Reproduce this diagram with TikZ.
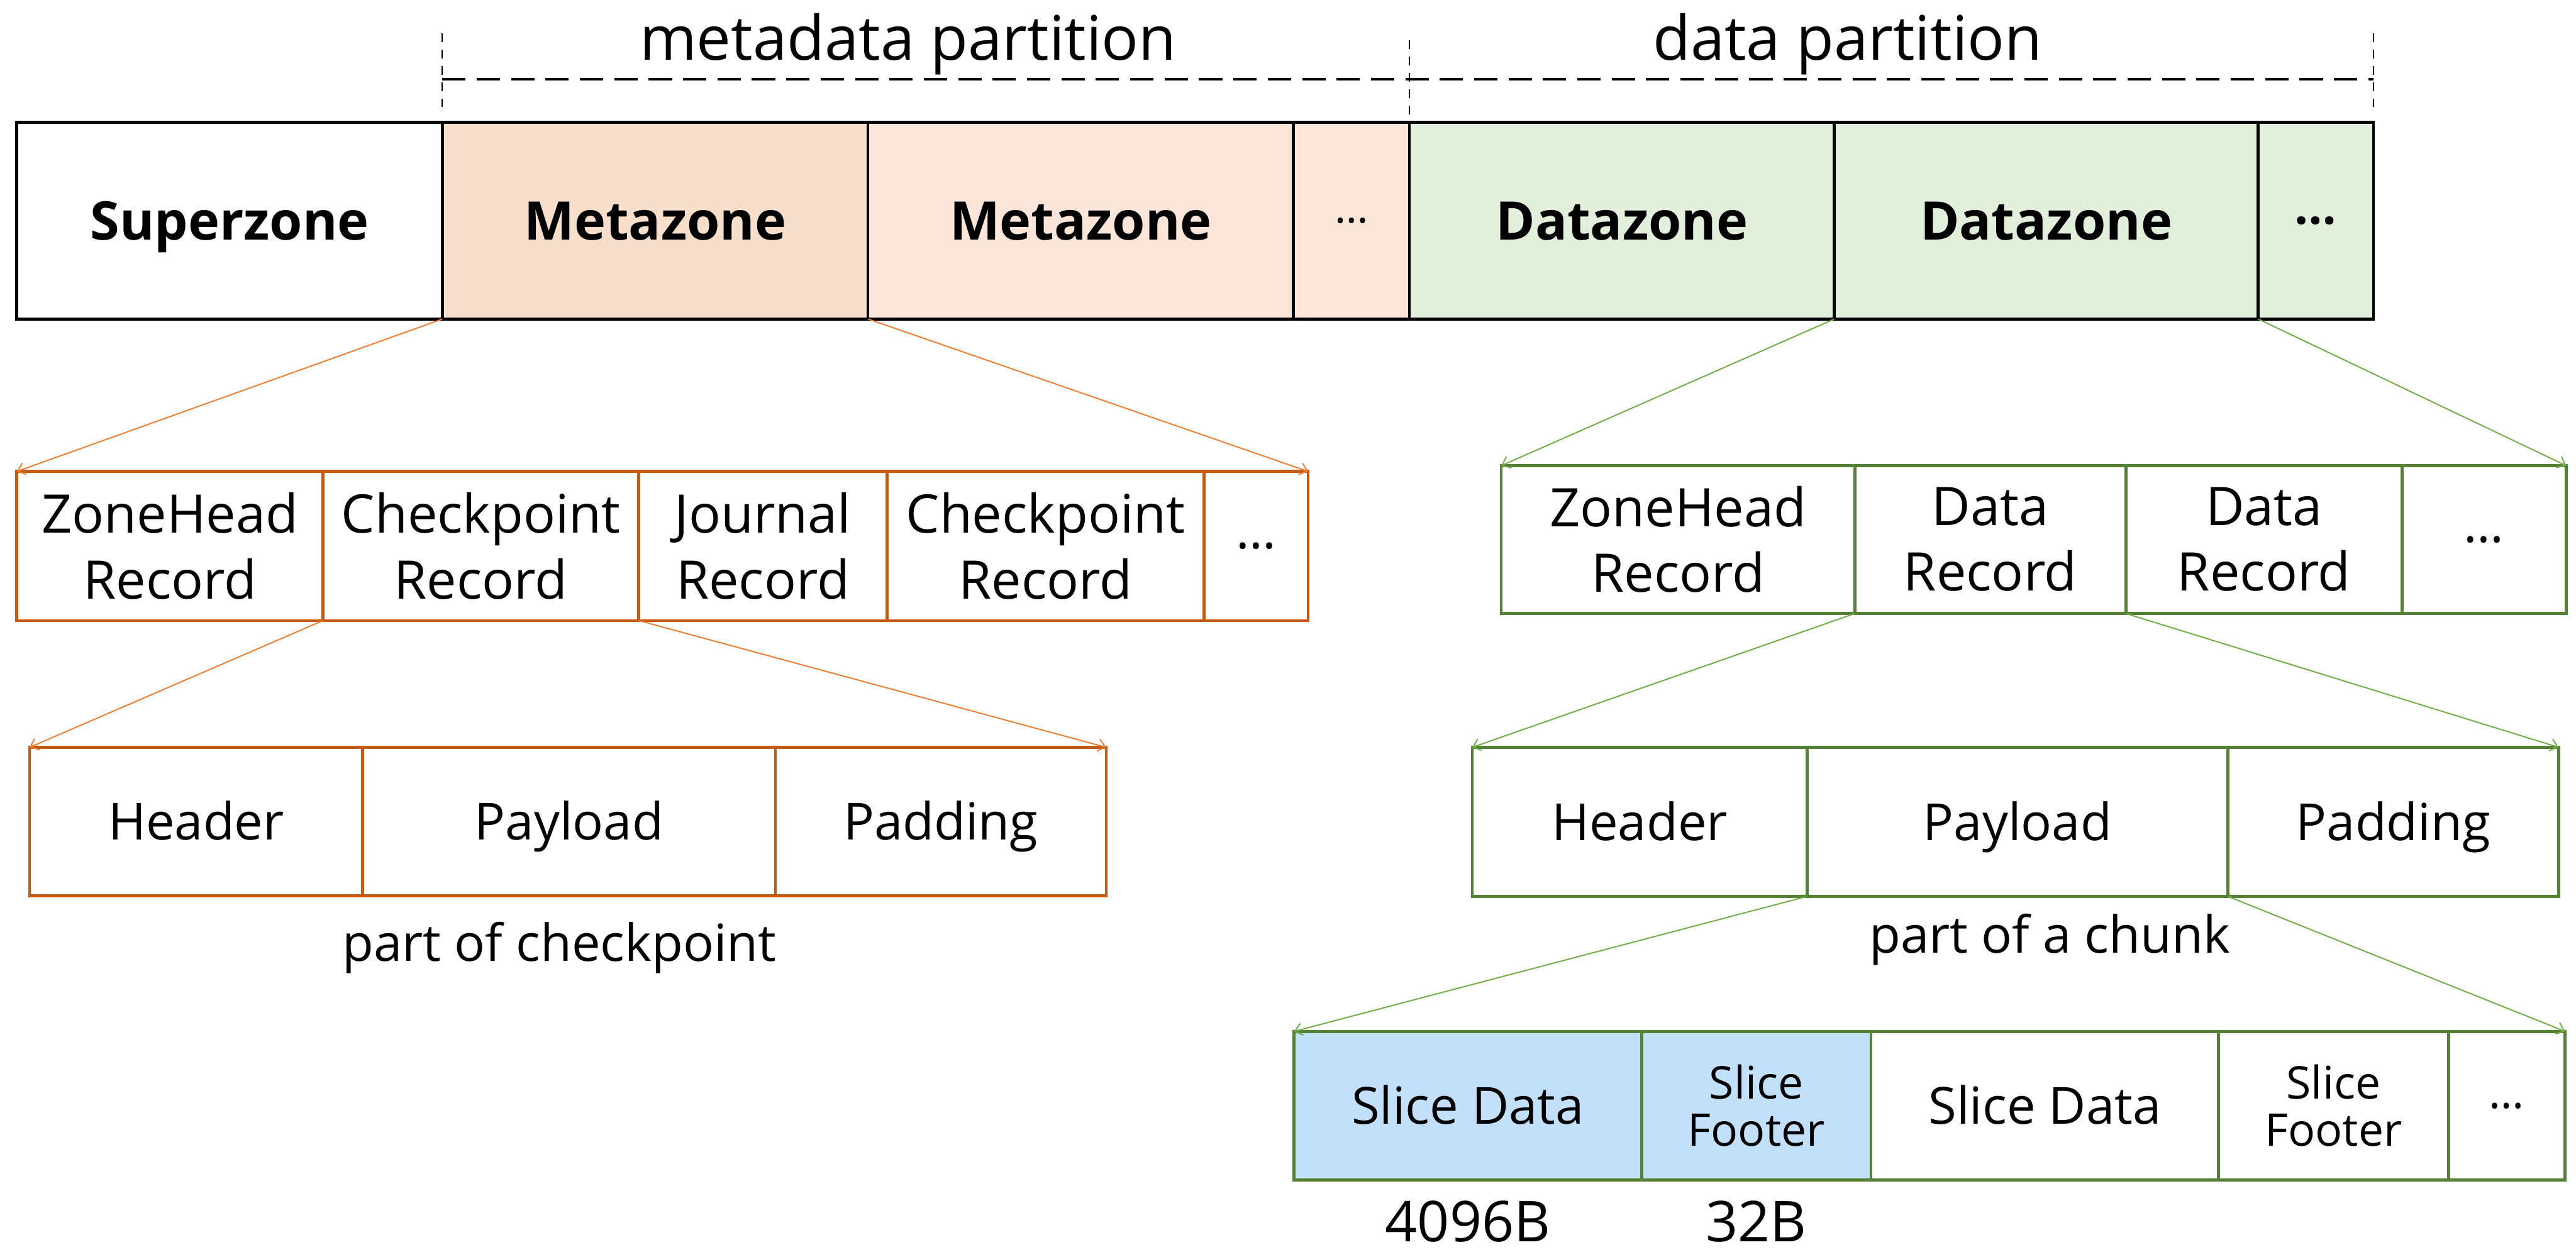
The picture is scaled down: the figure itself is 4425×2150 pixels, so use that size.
\documentclass[tikz,border=0pt]{standalone}
\usepackage{fontspec}
\setmainfont{Open Sans}
\usetikzlibrary{arrows.meta}

\definecolor{metaA}{HTML}{F8DFCB}
\definecolor{metaB}{HTML}{FAE5D8}
\definecolor{dataG}{HTML}{E2EFDA}
\definecolor{sliceB}{HTML}{C3E0FA}
\definecolor{orgLine}{HTML}{ED7D31}
\definecolor{orgBox}{HTML}{C55A11}
\definecolor{grnLine}{HTML}{70AD47}
\definecolor{grnBox}{HTML}{548235}

\tikzset{
  cell/.style={draw, rectangle, inner sep=0pt, outer sep=0pt, align=center},
  % single-line labels: box sized to the cap height so capitals sit centred
  oneline/.style={text height=#1, text depth=0pt},
  zone/.style={cell, black, line width=1.4pt, text=black, minimum height=3.38cm,
               font=\fontsize{26}{32}\selectfont\bfseries},
  orec/.style={cell, draw=orgBox, line width=1.4pt, text=black,
               font=\fontsize{26}{32}\selectfont},
  grec/.style={cell, draw=grnBox, line width=1.4pt, text=black,
               font=\fontsize{26}{32}\selectfont},
  part/.style={oneline=17.9pt, font=\fontsize{25}{30}\selectfont},
  expand/.style={line width=0.6pt, -{Straight Barb[length=3.5pt,width=6pt]}},
  oexp/.style={expand, orgLine},
  gexp/.style={expand, grnLine},
  hdash/.style={line width=1.05pt, dash pattern=on 11.4pt off 5.4pt},
  vdash/.style={line width=0.6pt, dash pattern=on 4.3pt off 3.7pt},
  lbl/.style={inner sep=0pt, anchor=base},
}

\begin{document}
\begin{tikzpicture}[x=0.01cm, y=-0.01cm]
\useasboundingbox (0,0) rectangle (4425,2150);

% ---- zone bar ----
\node[zone, oneline=18.6pt, fill=white, minimum width=7.31cm] (sz)  at (394.5,379) {Superzone};
\node[zone, oneline=18.6pt, fill=metaA, minimum width=7.31cm] (mz1) at (1125.5,379) {Metazone};
\node[zone, oneline=18.6pt, fill=metaB, minimum width=7.31cm] (mz2) at (1856.5,379) {Metazone};
\node[zone, fill=metaB, minimum width=1.99cm, font=\fontsize{21}{24}\selectfont] (mzd) at (2321.5,379) {…};
\node[zone, oneline=18.6pt, fill=dataG, minimum width=7.30cm] (dz1) at (2786,379) {Datazone};
\node[zone, oneline=18.6pt, fill=dataG, minimum width=7.28cm] (dz2) at (3515,379) {Datazone};
\node[zone, fill=dataG, minimum width=1.98cm, font=\fontsize{24}{28}\selectfont\bfseries] (dzd) at (3978,379) {…};

% ---- partition brackets ----
\coordinate (ytop) at (0,57);
\coordinate (ybot) at (0,184);
\coordinate (ymtop) at (0,69);
\coordinate (ymbot) at (0,197);
\coordinate (yh) at (0,136);
\draw[vdash] (mz1.north west |- ytop) -- (mz1.north west |- ybot);
\draw[vdash] (dz1.north west |- ymtop) -- (dz1.north west |- ymbot);
\draw[vdash] (dzd.north east |- ytop) -- (dzd.north east |- ybot);
\draw[hdash] (mz1.north west |- yh) -- (dzd.north east |- yh);
\node[lbl, font=\fontsize{30}{36}\selectfont] (mp) at (1560,103) {metadata partition};
\node[lbl, font=\fontsize{30}{36}\selectfont] (dp) at (3174,103) {data partition};

% ---- metazone records ----
\node[orec, minimum width=5.26cm, minimum height=2.56cm] (r1) at (292,938) {ZoneHead\\Record};
\node[orec, minimum width=5.42cm, minimum height=2.56cm] (r2) at (826,938) {Checkpoint\\Record};
\node[orec, minimum width=4.27cm, minimum height=2.56cm] (r3) at (1310.5,938) {Journal\\Record};
\node[orec, minimum width=5.44cm, minimum height=2.56cm] (r4) at (1796,938) {Checkpoint\\Record};
\node[orec, minimum width=1.79cm, minimum height=2.56cm, font=\fontsize{25}{30}\selectfont] (r5) at (2157.5,938) {…};

% ---- checkpoint record parts ----
\node[orec, part, minimum width=5.72cm, minimum height=2.55cm] (h1) at (337,1411.5) {Header};
\node[orec, part, minimum width=7.09cm, minimum height=2.55cm] (p1) at (977.5,1411.5) {Payload};
\node[orec, part, minimum width=5.68cm, minimum height=2.55cm] (d1) at (1616,1411.5) {Padding};
\node[lbl, font=\fontsize{25}{30}\selectfont] (pc) at (961,1651) {part of checkpoint};

% ---- datazone records ----
\node[grec, minimum width=6.07cm, minimum height=2.54cm] (q1) at (2882.5,927) {ZoneHead\\Record};
\node[grec, minimum width=4.66cm, minimum height=2.54cm] (q2) at (3419,927) {Data\\Record};
\node[grec, minimum width=4.74cm, minimum height=2.54cm] (q3) at (3889,927) {Data\\Record};
\node[grec, minimum width=2.82cm, minimum height=2.54cm, font=\fontsize{25}{30}\selectfont] (q4) at (4267,927) {…};

% ---- data record parts ----
\node[grec, part, minimum width=5.75cm, minimum height=2.56cm] (h2) at (2816.5,1412) {Header};
\node[grec, part, minimum width=7.23cm, minimum height=2.56cm] (p2) at (3465.5,1412) {Payload};
\node[grec, part, minimum width=5.68cm, minimum height=2.56cm] (d2) at (4111,1412) {Padding};
\node[lbl, font=\fontsize{25}{30}\selectfont] (pk) at (3521,1637) {part of a chunk};

% ---- payload slices ----
\node[grec, part, fill=sliceB, minimum width=5.97cm, minimum height=2.55cm] (s1) at (2521.5,1899.5) {Slice Data};
\node[grec, fill=sliceB, minimum width=3.94cm, minimum height=2.55cm, font=\fontsize{22}{23}\selectfont] (s2) at (3017,1899.5) {Slice\\Footer};
\node[grec, part, minimum width=5.97cm, minimum height=2.55cm] (s3) at (3512.5,1899.5) {Slice Data};
\node[grec, minimum width=3.95cm, minimum height=2.55cm, font=\fontsize{22}{23}\selectfont] (s4) at (4008.5,1899.5) {Slice\\Footer};
\node[grec, minimum width=2.00cm, minimum height=2.55cm, font=\fontsize{22}{26}\selectfont] (s5) at (4306,1899.5) {…};
\coordinate (ysz) at (0,2133);
\node[lbl, font=\fontsize{27.5}{32}\selectfont] (b1) at (s1.center |- ysz) {4096B};
\node[lbl, font=\fontsize{27.5}{32}\selectfont] (b2) at (s2.center |- ysz) {32B};

% ---- expansion connectors ----
\draw[oexp] (mz1.south west) -- (r1.north west);
\draw[oexp] (mz1.south east) -- (r5.north east);
\draw[oexp] (r2.south west) -- (h1.north west);
\draw[oexp] (r2.south east) -- (d1.north east);
\draw[gexp] (dz2.south west) -- (q1.north west);
\draw[gexp] (dz2.south east) -- (q4.north east);
\draw[gexp] (q2.south west) -- (h2.north west);
\draw[gexp] (q2.south east) -- (d2.north east);
\draw[gexp] (p2.south west) -- (s1.north west);
\draw[gexp] (p2.south east) -- (s5.north east);
\end{tikzpicture}
\end{document}
